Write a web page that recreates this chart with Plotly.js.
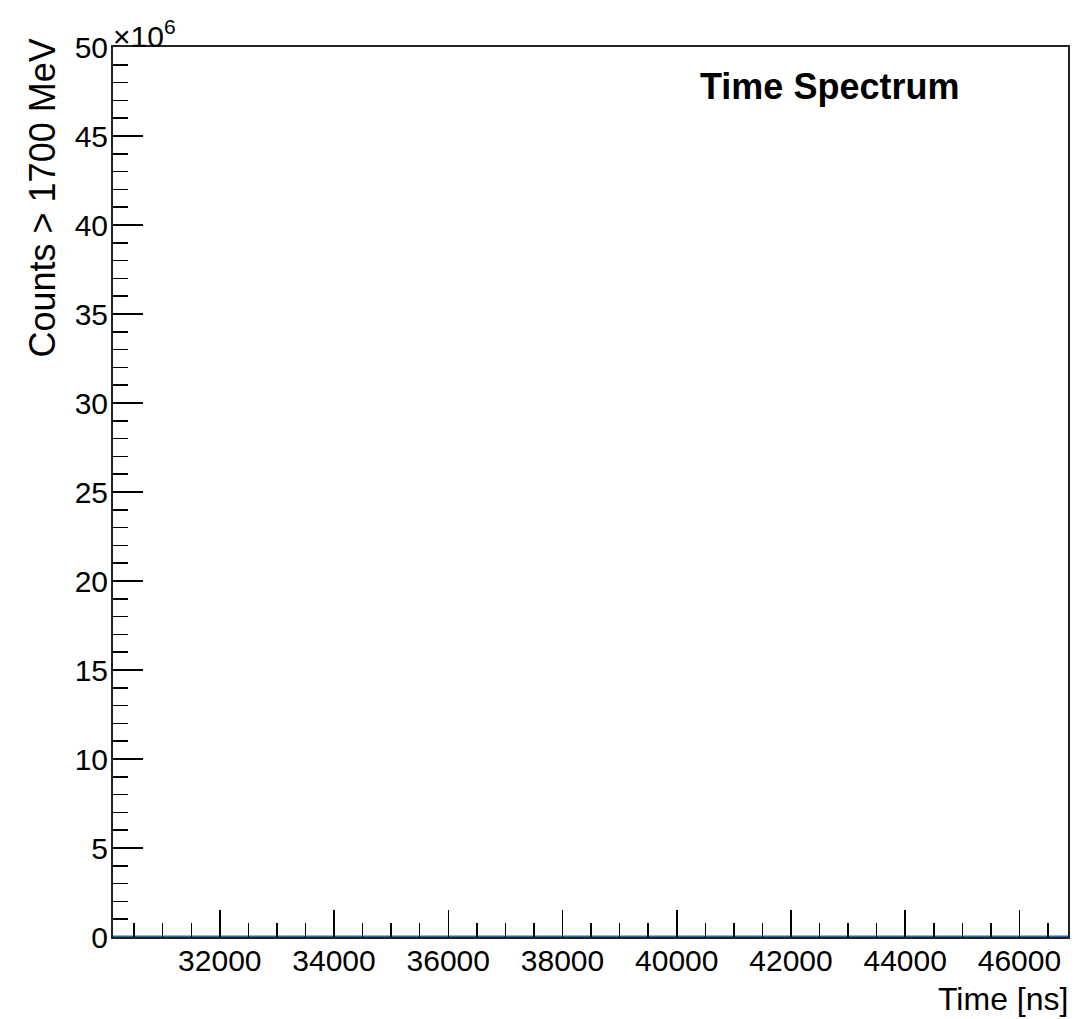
<!DOCTYPE html>
<html>
<head>
<meta charset="utf-8">
<script src="https://cdn.plot.ly/plotly-3.0.1.min.js"></script>
<style>
html,body{margin:0;padding:0;background:#fff;}
#chart{width:1089px;height:1019px;}
</style>
</head>
<body>
<div id="chart"></div>
<script>
// Histogram bin edges (ns) and counts (all bins sit at ~0 on a 50e6 scale)
const binEdges = [30130, 32000, 34000, 36000, 38000, 40000, 42000, 44000, 46000, 46850];
const counts   = [0, 0, 0, 0, 0, 0, 0, 0, 0];
const yTickVals = [0, 5e6, 10e6, 15e6, 20e6, 25e6, 30e6, 35e6, 40e6, 45e6, 50e6];
const yTickText = ['0', '5', '10', '15', '20', '25', '30', '35', '40', '45', '50'];
const xTickVals = [32000, 34000, 36000, 38000, 40000, 42000, 44000, 46000];
const xTickText = ['32000', '34000', '36000', '38000', '40000', '42000', '44000', '46000'];

// Build step outline from bins
const sx = [], sy = [];
for (let i = 0; i < counts.length; i++) {
  sx.push(binEdges[i], binEdges[i + 1]);
  sy.push(counts[i], counts[i]);
}

const FONT = 'Liberation Sans, Arial, Helvetica, sans-serif';

const trace = {
  x: sx, y: sy, type: 'scatter', mode: 'lines',
  line: {color: '#2a6bb0', width: 3},
  hoverinfo: 'skip', showlegend: false
};

const layout = {
  width: 1089, height: 1019,
  margin: {l: 113, r: 21, t: 47, b: 82, pad: 0},
  paper_bgcolor: '#fff', plot_bgcolor: '#fff',
  font: {family: FONT, color: '#000'},
  xaxis: {
    range: [30130, 46850],
    tickvals: xTickVals, ticktext: xTickText,
    ticks: 'inside', ticklen: 27, tickwidth: 1.5, tickcolor: '#000',
    minor: {dtick: 500, tick0: 0, ticks: 'inside', ticklen: 14, tickwidth: 1.5, tickcolor: '#000', showgrid: false},
    showgrid: false, zeroline: false,
    showline: true, mirror: true, linecolor: '#222', linewidth: 2,
    tickfont: {family: FONT, size: 30, color: '#000'},
    ticklabelstandoff: -4
  },
  yaxis: {
    range: [0, 50e6],
    tickvals: yTickVals, ticktext: yTickText,
    ticks: 'inside', ticklen: 30, tickwidth: 1.5, tickcolor: '#000',
    minor: {dtick: 1e6, tick0: 0, ticks: 'inside', ticklen: 15, tickwidth: 1.5, tickcolor: '#000', showgrid: false},
    showgrid: false, zeroline: false,
    showline: true, mirror: true, linecolor: '#222', linewidth: 2,
    tickfont: {family: FONT, size: 30, color: '#000'},
    ticklabelstandoff: -3
  },
  annotations: [
    {text: '<b>Time Spectrum</b>', xref: 'paper', yref: 'paper', x: 0.75, y: 0.9556,
     xanchor: 'center', yanchor: 'middle', showarrow: false,
     font: {family: FONT, size: 36, color: '#000'}},
    {text: '×10<sup>6</sup>', xref: 'paper', yref: 'paper', x: 0, y: 1,
     xanchor: 'left', yanchor: 'bottom', showarrow: false, xshift: -2, yshift: -8,
     font: {family: FONT, size: 30, color: '#000'}},
    {text: 'Counts > 1700 MeV', xref: 'paper', yref: 'paper', x: 0, y: 1,
     xanchor: 'center', yanchor: 'top', textangle: -90, showarrow: false,
     xshift: -71, yshift: 10,
     font: {family: FONT, size: 36, color: '#000'}},
    {text: 'Time [ns]', xref: 'paper', yref: 'paper', x: 1, y: 0,
     xanchor: 'right', yanchor: 'top', showarrow: false, xshift: 2, yshift: -42,
     font: {family: FONT, size: 32, color: '#000'}}
  ]
};

Plotly.newPlot('chart', [trace], layout, {displayModeBar: false, staticPlot: true});
</script>
</body>
</html>
